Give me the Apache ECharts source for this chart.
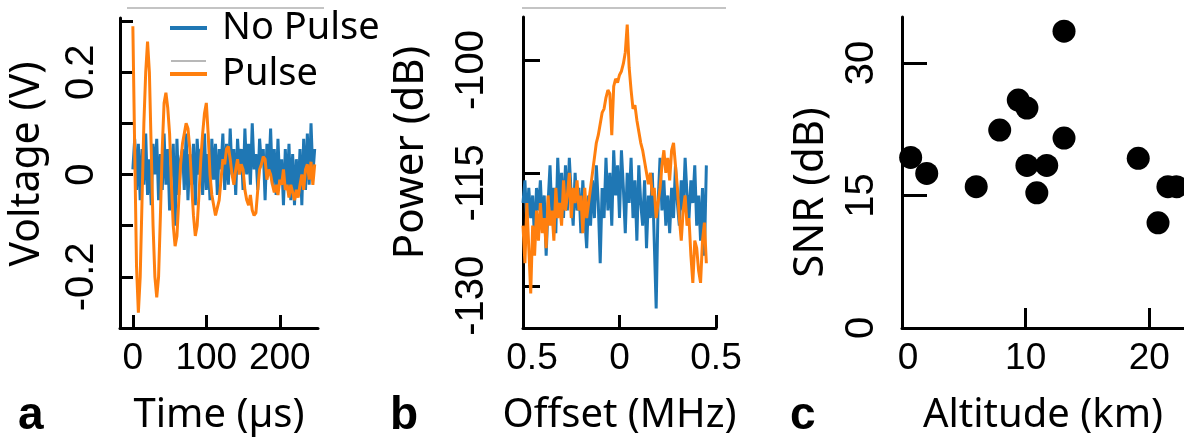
<!DOCTYPE html>
<html><head><meta charset="utf-8">
<script src="https://cdn.jsdelivr.net/npm/echarts@6/dist/echarts.min.js"></script>
<style>html,body{margin:0;padding:0;background:#fff}#c{width:1184px;height:448px}</style>
</head><body><div id="c"></div>
<script>
// ---- Panel a: time series (µs, V) ----
const timeStepUs = 2.5;
const voltageNoPulse = [
  0.01, 0.07, -0.03, 0.06, -0.05, 0.05, -0.02, 0.08, -0.04, 0.03,
  -0.06, 0.06, 0.0, 0.07, -0.05, 0.04, -0.03, 0.08, -0.02, 0.05,
  -0.07, 0.02, 0.06, -0.1, 0.07, -0.04, 0.03, 0.05, -0.03, 0.08,
  -0.05, 0.04, -0.02, 0.06, -0.06, 0.07, 0.0, 0.05, -0.04, 0.08,
  -0.03, 0.04, -0.05, 0.07, -0.01, 0.06, -0.04, 0.05, 0.01, 0.08,
  -0.03, 0.06, -0.02, 0.09, 0.0, 0.05, -0.04, 0.07, 0.01, 0.05,
  -0.03, 0.09, 0.0, 0.06, -0.02, 0.1, 0.01, 0.04, -0.03, 0.07,
  0.02, 0.05, -0.05, 0.06, 0.0, 0.09, -0.02, 0.05, -0.04, 0.07,
  -0.02, 0.03, -0.06, 0.05, -0.03, 0.06, -0.05, 0.04, -0.06, 0.03,
  -0.04, 0.05, -0.06, 0.07, -0.03, 0.08, -0.02, 0.1, 0.0, 0.05
];
const voltagePulse = [
  0.29, 0.05, -0.18, -0.27, -0.2, -0.05, 0.1, 0.2, 0.26, 0.2,
  0.05, -0.1, -0.2, -0.24, -0.2, -0.08, 0.05, 0.14, 0.16, 0.13,
  0.08, -0.02, -0.1, -0.14, -0.12, -0.05, 0.02, 0.06, 0.08, 0.1,
  0.09, 0.05, -0.02, -0.08, -0.12, -0.1, -0.04, 0.03, 0.08, 0.12,
  0.14, 0.08, 0.0, -0.04, -0.06, -0.08, -0.08, -0.05, -0.01, 0.03,
  0.02, 0.05, 0.055, 0.03, 0.0, -0.02, 0.01, 0.03, 0.0, 0.02,
  0.01, -0.03, -0.05, -0.06, -0.04, -0.07, -0.08, -0.075, -0.03, 0.01,
  0.02, 0.035, 0.03, -0.01, 0.01, 0.0, -0.02, -0.035, -0.02, -0.04,
  -0.01, -0.02, 0.01, -0.03, -0.02, -0.045, -0.02, -0.035, -0.05, -0.03,
  -0.045, -0.02, 0.0, -0.03, 0.01, 0.02, -0.01, 0.025, -0.02, 0.02
];
const voltageTicks = [-0.2, -0.1, 0, 0.1, 0.2, 0.3];
const voltageLabels = [-0.2, 0, 0.2];
const timeTicks = [0, 100, 200];

// ---- Panel b: spectra (MHz, dB) ----
const offsetStartMHz = -0.5;
const offsetStepMHz = 0.01;
const powerNoPulse = [
  -119, -116, -122, -117, -121, -118, -124, -117, -120, -116,
  -122, -118, -126, -119, -114, -121, -117, -123, -113, -119,
  -115, -121, -114, -120, -113, -118, -122, -115, -120, -117,
  -123, -116, -121, -125, -118, -122, -116, -121, -114, -119,
  -127, -117, -121, -113, -120, -115, -122, -112, -118, -114,
  -121, -112, -117, -123, -115, -119, -113, -121, -116, -124,
  -114, -119, -122, -116, -125, -118, -121, -115, -124, -133,
  -119, -113, -120, -116, -122, -118, -123, -117, -121, -114,
  -119, -122, -116, -120, -113, -118, -121, -116, -119, -114,
  -122, -118, -124, -117, -126, -114
];
const powerPulse = [
  -122, -127, -119, -125, -131, -122, -126, -120, -124, -119,
  -123, -121, -125, -118, -122, -120, -124, -117, -121, -119,
  -122, -116, -120, -118, -115, -121, -117, -119, -116, -120,
  -118, -123, -117, -121, -119, -117, -115, -113, -111, -110,
  -108.5, -107, -106.5, -105, -104, -104.5, -110, -103.5, -102.5, -103,
  -102, -101.5, -100.5, -99, -95.3, -101, -104, -106.5, -106, -108,
  -109.5, -111, -112, -113.5, -115, -116.5, -115, -118, -117, -121,
  -119, -117, -114, -112, -115, -113, -116, -112, -111, -114,
  -117, -121, -124, -120, -118, -122, -121, -126, -129.6, -124,
  -125, -128, -129.6, -124, -121.6, -127
];
const powerTicks = [-130, -115, -100];
const offsetTicks = [-0.5, 0, 0.5];

// ---- Panel c: SNR vs altitude ----
const altitudeKm = [0.7, 2.0, 6.0, 7.9, 9.4, 10.1, 10.1, 11.7, 10.9, 13.1, 13.1, 19.1, 20.7, 21.5, 22.2];
const snrDb =      [19.3, 17.5, 16.0, 22.4, 25.8, 24.9, 18.4, 18.4, 15.3, 33.6, 21.5, 19.2, 11.9, 16.0, 16.0];
const altitudeTicks = [0, 10, 20];
const snrTicks = [0, 15, 30];

const BLUE = '#1f77b4', ORANGE = '#ff7f0e';
const TICKFONT = 'Liberation Sans';
const TITLEFONT = 'Noto Sans';
const LW = 3;

const timeSeries = arr => arr.map((v, i) => [i * timeStepUs, v]);
const specSeries = arr => arr.map((v, i) => [+(offsetStartMHz + i * offsetStepMHz).toFixed(2), v]);

function baseAxis(extra) {
  return Object.assign({
    type: 'value',
    axisLine: { show: true, onZero: false, lineStyle: { color: '#000', width: 3 } },
    axisTick: { show: true, inside: true, length: 13, lineStyle: { color: '#000', width: 3 } },
    splitLine: { show: false },
    nameLocation: 'middle',
    nameMoveOverlap: false,
    nameTextStyle: { fontFamily: TITLEFONT, fontSize: 40, color: '#000' }
  }, extra);
}
function xLabel(extra) {
  return Object.assign({ show: true, fontFamily: TICKFONT, fontSize: 37, color: '#000', margin: 12, hideOverlap: false }, extra);
}
function yLabel(extra) {
  return Object.assign({ show: true, rotate: 90, fontFamily: TICKFONT, fontSize: 40, color: '#000', hideOverlap: false }, extra);
}

const chart = echarts.init(document.getElementById('c'));
chart.setOption({
  animation: false,
  backgroundColor: '#fff',
  grid: [
    { left: 120, top: 18, width: 198, height: 310, outerBoundsMode: 'none', containLabel: false },
    { left: 523, top: 17, width: 193, height: 311, outerBoundsMode: 'none', containLabel: false },
    { left: 902, top: 17, right: 0, height: 311, outerBoundsMode: 'none', containLabel: false }
  ],
  legend: {
    left: 170, top: 9, orient: 'vertical', padding: 0, itemGap: 8,
    icon: 'rect', itemWidth: 37, itemHeight: 4,
    data: ['No Pulse', 'Pulse'],
    textStyle: { fontFamily: TITLEFONT, fontSize: 38, color: '#000', padding: [0, 0, 0, 10] }
  },
  xAxis: [
    baseAxis({ gridIndex: 0, min: -17.5, max: 252, name: 'Time (µs)', nameGap: 68,
      axisTick: { show: true, inside: true, length: 13, customValues: timeTicks, lineStyle: { color: '#000', width: 3 } },
      axisLabel: xLabel({ customValues: timeTicks }) }),
    baseAxis({ gridIndex: 1, min: -0.5, max: 0.5, name: 'Offset (MHz)', nameGap: 68,
      axisTick: { show: true, inside: true, length: 13, customValues: offsetTicks, lineStyle: { color: '#000', width: 3 } },
      axisLabel: xLabel({ customValues: offsetTicks,
        formatter: v => v === -0.5 ? '{s|0.5}' : String(Math.abs(v)),
        rich: { s: { fontFamily: TICKFONT, fontSize: 37, color: '#000', padding: [0, 0, 0, 18] } } }) }),
    baseAxis({ gridIndex: 2, min: 0, max: 22.8, name: 'Altitude (km)', nameGap: 68,
      axisTick: { show: true, inside: true, length: 20, customValues: altitudeTicks, lineStyle: { color: '#000', width: 3 } },
      axisLabel: xLabel({ customValues: altitudeTicks,
        formatter: v => v === 0 ? '{s|0}' : String(v),
        rich: { s: { fontFamily: TICKFONT, fontSize: 37, color: '#000', padding: [0, 0, 0, 12] } } }) })
  ],
  yAxis: [
    baseAxis({ gridIndex: 0, min: -0.3, max: 0.306, name: 'Voltage (V)', nameGap: 72,
      nameTextStyle: { fontFamily: TITLEFONT, fontSize: 41, color: '#000', padding: [0, 0, 0, 18] },
      axisTick: { show: true, inside: true, length: 13, customValues: voltageTicks, lineStyle: { color: '#000', width: 3 } },
      axisLabel: yLabel({ customValues: voltageLabels, margin: 18 }) }),
    baseAxis({ gridIndex: 1, min: -135.6, max: -94.3, name: 'Power (dB)', nameGap: 91,
      nameTextStyle: { fontFamily: TITLEFONT, fontSize: 42, color: '#000', padding: [0, 0, 0, 40] },
      axisTick: { show: true, inside: true, length: 17, customValues: powerTicks, lineStyle: { color: '#000', width: 3 } },
      axisLabel: yLabel({ customValues: powerTicks, margin: 31, padding: [0, 20, 0, 0] }) }),
    baseAxis({ gridIndex: 2, min: 0, max: 35.2, name: 'SNR (dB)', nameGap: 70,
      nameTextStyle: { fontFamily: TITLEFONT, fontSize: 42, color: '#000', padding: [0, 40, 0, 0] },
      axisTick: { show: true, inside: true, length: 25, customValues: snrTicks, lineStyle: { color: '#000', width: 3 } },
      axisLabel: yLabel({ customValues: snrTicks, margin: 20 }) })
  ],
  series: [
    { name: 'No Pulse', type: 'line', xAxisIndex: 0, yAxisIndex: 0, data: timeSeries(voltageNoPulse),
      showSymbol: false, symbol: 'none', lineStyle: { color: BLUE, width: LW }, itemStyle: { color: BLUE } },
    { name: 'Pulse', type: 'line', xAxisIndex: 0, yAxisIndex: 0, data: timeSeries(voltagePulse),
      showSymbol: false, symbol: 'none', lineStyle: { color: ORANGE, width: LW }, itemStyle: { color: ORANGE } },
    { name: 'No Pulse', type: 'line', xAxisIndex: 1, yAxisIndex: 1, data: specSeries(powerNoPulse),
      showSymbol: false, symbol: 'none', lineStyle: { color: BLUE, width: LW }, itemStyle: { color: BLUE } },
    { name: 'Pulse', type: 'line', xAxisIndex: 1, yAxisIndex: 1, data: specSeries(powerPulse),
      showSymbol: false, symbol: 'none', lineStyle: { color: ORANGE, width: LW }, itemStyle: { color: ORANGE } },
    { name: 'SNR', type: 'scatter', xAxisIndex: 2, yAxisIndex: 2,
      data: altitudeKm.map((a, i) => [a, snrDb[i]]),
      symbolSize: 23, itemStyle: { color: '#000', opacity: 1 } }
  ],
  graphic: [
    { type: 'line', shape: { x1: 127, y1: 8, x2: 324, y2: 8 }, style: { stroke: '#b0b0b0', lineWidth: 1.5 } },
    { type: 'line', shape: { x1: 522, y1: 8, x2: 726, y2: 8 }, style: { stroke: '#b0b0b0', lineWidth: 1.5 } },
    { type: 'line', shape: { x1: 171, y1: 61, x2: 206, y2: 61 }, style: { stroke: '#a0a0a0', lineWidth: 1.5 } },
    { type: 'text', x: 18, y: 416, style: { text: 'a', font: 'bold 46px "Liberation Sans"', fill: '#000', verticalAlign: 'middle' } },
    { type: 'text', x: 390, y: 416, style: { text: 'b', font: 'bold 46px "Liberation Sans"', fill: '#000', verticalAlign: 'middle' } },
    { type: 'text', x: 790, y: 416, style: { text: 'c', font: 'bold 46px "Liberation Sans"', fill: '#000', verticalAlign: 'middle' } }
  ]
});
</script></body></html>
